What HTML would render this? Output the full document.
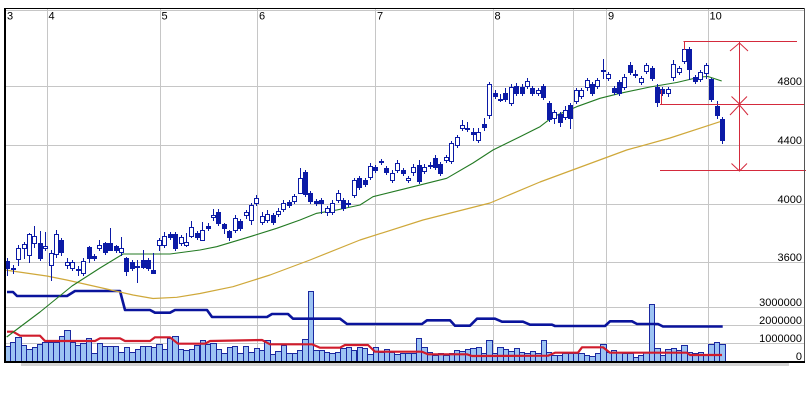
<!DOCTYPE html>
<html><head><meta charset="utf-8"><style>
html,body{margin:0;padding:0;background:#fff;width:810px;height:400px;overflow:hidden}
svg{display:block}
text{font-family:"Liberation Sans Narrow","Liberation Sans",sans-serif;font-size:11px;fill:#000}
</style></head><body>
<svg id="c" width="810" height="400" viewBox="0 0 810 400" xmlns="http://www.w3.org/2000/svg">
<rect x="0" y="0" width="810" height="400" fill="#fff"/>
<rect x="21" y="363" width="768" height="3" fill="#d4d4d4"/>
<g stroke="#c6c6c6" stroke-width="1">
<line x1="5" y1="10.5" x2="805" y2="10.5"/>
<line x1="5" y1="86.5" x2="805" y2="86.5"/>
<line x1="5" y1="145.5" x2="805" y2="145.5"/>
<line x1="5" y1="204.5" x2="805" y2="204.5"/>
<line x1="5" y1="262.5" x2="805" y2="262.5"/>
<line x1="5" y1="307.5" x2="805" y2="307.5"/>
<line x1="5" y1="325.5" x2="805" y2="325.5"/>
<line x1="5" y1="343.5" x2="805" y2="343.5"/>
<line x1="47.5" y1="9" x2="47.5" y2="361"/>
<line x1="160.5" y1="9" x2="160.5" y2="361"/>
<line x1="257.5" y1="9" x2="257.5" y2="361"/>
<line x1="375.5" y1="9" x2="375.5" y2="361"/>
<line x1="493.5" y1="9" x2="493.5" y2="361"/>
<line x1="573.5" y1="9" x2="573.5" y2="361"/>
<line x1="606.5" y1="9" x2="606.5" y2="361"/>
<line x1="708.5" y1="9" x2="708.5" y2="361"/>
</g>
<g id="dyn"></g>
<g stroke="#000" fill="none">
<line x1="4" y1="8.5" x2="805" y2="8.5" stroke-width="1"/>
<line x1="5" y1="8" x2="5" y2="363" stroke-width="2"/>
<line x1="804.5" y1="8" x2="804.5" y2="363" stroke="#555" stroke-width="1"/>
<line x1="4" y1="362" x2="805" y2="362" stroke-width="2"/>
</g>
<g>
<text x="7" y="19.5">3</text>
<text x="48.5" y="19.5">4</text>
<text x="161.5" y="19.5">5</text>
<text x="259" y="19.5">6</text>
<text x="377" y="19.5">7</text>
<text x="494.5" y="19.5">8</text>
<text x="608" y="19.5">9</text>
<text x="709.5" y="19.5">10</text>
</g>
<g text-anchor="end">
<text x="802" y="85">4800</text>
<text x="802" y="144">4400</text>
<text x="802" y="203">4000</text>
<text x="802" y="261">3600</text>
<text x="802" y="306">3000000</text>
<text x="802" y="324">2000000</text>
<text x="802" y="342">1000000</text>
<text x="802" y="360">0</text>
</g>
</svg>
<script>
(function(){
var C=[["F",261,268,258,275],["T",268,268,265,273],["H",248,259,245,265],["H",244,248,242,258],["H",234,255,233,262],["H",236,243,226,247],["F",243,258,231,260],["H",246,248,232,250],["H",253,265,250,280],["H",234,254,230,257],
["F",240,252,238,255],["H",262,265,258,268],["H",262,268,260,270],["T",269,269,266,275],["H",261,273,258,275],["F",247,258,246,262],["F",256,258,254,260],["H",245,248,240,250],["F",243,252,242,254],["F",243,250,228,250],
["F",246,250,245,252],["H",248,252,237,255],["F",258,271,257,275],["F",262,268,260,270],["T",266,266,260,282],["F",260,267,250,268],["F",260,268,258,270],["F",270,273,253,273],["H",240,245,238,250],["H",236,245,232,247],
["F",234,237,232,239],["F",234,248,232,250],["H",237,243,235,245],["H",242,245,233,246],["H",227,236,221,237],["F",233,237,231,239],["H",230,240,222,240],["F",226,228,223,230],["H",215,217,209,220],["F",212,223,209,225],
["F",224,228,223,233],["F",231,237,230,240],["H",218,230,215,232],["F",221,228,219,230],["H",212,215,210,218],["H",205,220,203,224],["H",198,203,195,205],["H",216,222,212,224],["H",214,220,210,222],["F",215,222,213,224],
["H",211,214,208,216],["H",203,209,200,211],["F",202,205,200,207],["H",196,201,194,203],["H",178,193,168,193],["F",172,194,170,196],["F",193,201,191,203],["F",201,203,199,205],["F",200,203,198,213],["H",208,212,206,215],
["H",203,212,200,214],["H",193,200,190,202],["F",200,208,198,210],["T",203,203,200,206],["H",180,195,178,197],["F",178,187,176,189],["F",180,184,178,186],["H",166,177,163,179],["F",167,170,165,172],["T",161,161,159,164],
["F",168,172,166,174],["H",173,180,170,182],["H",163,170,160,172],["F",170,173,168,175],["H",178,180,176,182],["H",167,172,164,175],["F",165,181,160,183],["H",167,171,164,173],["T",165,165,162,168],["F",158,167,155,169],
["F",164,173,162,175],["H",157,160,155,162],["H",143,161,141,163],["H",137,145,135,147],["H",125,128,120,130],["T",128,128,122,131],["F",132,134,128,140],["H",132,140,128,142],["F",124,127,118,130],["H",84,115,82,118],
["F",93,96,90,98],["T",99,99,94,101],["F",93,99,88,101],["H",87,103,84,105],["F",86,93,83,95],["F",87,93,84,95],["H",81,86,78,88],["F",88,93,86,95],["H",90,93,88,95],["F",86,97,84,99],
["F",103,119,101,121],["H",112,118,110,123],["F",114,122,112,126],["H",110,117,106,119],["F",105,118,103,128],["H",90,101,88,103],["H",90,96,88,98],["H",80,87,78,90],["F",84,93,82,95],["H",80,86,78,88],
["T",70,70,59,78],["H",74,78,72,80],["F",88,92,86,94],["F",82,93,80,95],["H",77,87,74,89],["F",65,72,62,74],["T",74,74,70,77],["H",78,82,76,84],["H",65,71,63,73],["F",68,78,66,80],
["F",87,102,84,106],["F",89,93,87,95],["H",89,93,87,96],["H",64,77,60,80],["H",68,72,66,74],["H",49,61,42,63],["F",49,69,47,79],["F",77,81,75,83],["H",72,79,70,81],["H",65,73,63,78],
["F",79,99,78,101],["F",106,115,101,118],["F",119,140,117,143]];
var V=[346,342.3,337.3,345,349,347,344.3,341.7,341.7,342,336,330,341.7,345,343.3,338.3,353.3,343.3,346,346,346,351.7,347,351.7,349,346,346,347,343.7,349,338.3,336,349,350.3,349,345,340.3,344.3,343.3,349,352.7,347,346,353.3,346,351.7,348.3,350.3,340,354.3,351,345,353.3,353.3,350,339,291,350,350,351.7,353.3,351.7,348.3,346.7,350,346.7,347.7,354.3,346.7,351.7,349,352.3,353.7,353.3,353.3,353.3,337.7,347,351.7,355,353.3,355,352.7,350,350.7,349,348.3,346.7,353.3,340,353.3,346.7,349,351,348.3,351.7,353.3,351,353.3,340,351.7,355,355,353.3,352.7,353.3,353.3,355,355.7,353.3,344.3,351.7,350,352.3,353.3,353.3,356.7,355,351.7,304.3,348.3,355,349,348.3,350,345,351.7,353.3,352.3,355,344.3,342.3,344.3];
var NV="#0b1aa6";
function px(i){return 7.3+i*5.414;}
var s='';
// volume bars
for(var i=0;i<V.length;i++){
 var l=Math.round(px(i)-2.7), r=Math.round(px(i)+2.7), t=Math.round(V[i]);
 s+='<rect x="'+(l+0.5)+'" y="'+(t+0.5)+'" width="'+(r-l)+'" height="'+(361-t)+'" fill="#9cc3f3" stroke="#1a28a0" stroke-width="1"/>';
}
function pl(pts,col,w){return '<polyline fill="none" stroke="'+col+'" stroke-width="'+w+'" stroke-linejoin="round" points="'+pts+'"/>';}
s+=pl("7,292 13,292 17,296 67,296 75,291 120,291 125,310 150,310 155,312.7 170,312.7 175,310 207,310 212,317 267,317 272,314 288,314 293,318.7 340,318.7 347,324 422,324 427,320.3 450,320.3 455,325.7 470,325.7 477,318.7 495,318.7 502,321.7 523,321.7 530,324.7 552,324.7 555,326 605,326 610,321.3 632,321.3 637,324 658,324 663,326.5 722.7,326.5","#0a149c",2.6);
s+=pl("7,331.7 13,331.7 20,335.7 40,335.7 45,341 95,341 100,338.3 120,338.3 125,341 150,341 155,337.3 170,337.3 178,343.7 205,343.7 210,341 262,340 270,344.3 312,344.3 320,347.7 340,347.7 345,345 368,345 375,351.7 422,351.7 428,354.3 467,354.3 472,356 548,355.7 555,352.7 578,352.7 582,347.3 603,347.3 610,352.7 687,352.7 690,355 722,355","#d01c2c",2.2);
s+=pl("5,270 46.7,276 66.7,280 100,287.5 133,295 153,298.5 176.7,297.3 200,293.5 233,286.7 270,275 310,260 360,240 423,220 490,203 540,182 626.7,150 670,138 720,121.7","#cfa83a",1.2);
s+=pl("6.7,337 40,312 72,286 100,268 123,254 170,254 200,250 216.7,246.7 250,236.7 276.7,228.3 300,220 316.7,213.3 336.7,210 360,205 373,196.7 406.7,188.3 446.7,178.3 473,163 493,150 520,136.7 540,126.7 553,116.7 576.7,106.7 600,98.3 620,93.3 650,87 676.7,82.5 700,77 708,76.5 721.7,81","#237a23",1.1);
// candles
for(var j=0;j<C.length;j++){
 var c=C[j], cx=Math.round(px(j)), bt=Math.round(c[1]), bb=Math.round(c[2]), wt=Math.round(c[3]), wb=Math.round(c[4]);
 s+='<line x1="'+(cx+0.5)+'" y1="'+wt+'" x2="'+(cx+0.5)+'" y2="'+(wb+1)+'" stroke="'+NV+'" stroke-width="1"/>';
 if(c[0]=="H"){
  s+='<rect x="'+(cx-1.5)+'" y="'+(bt+0.5)+'" width="4" height="'+Math.max(1,bb-bt)+'" fill="#fff" stroke="'+NV+'" stroke-width="1"/>';
 }else if(c[0]=="F"){
  s+='<rect x="'+(cx-2)+'" y="'+bt+'" width="5" height="'+Math.max(2,bb-bt+1)+'" fill="'+NV+'"/>';
 }else{
  s+='<rect x="'+(cx-2)+'" y="'+bt+'" width="5" height="2" fill="'+NV+'"/>';
 }
}
// annotations
var R="#d42a3c";
s+='<g stroke="'+R+'" stroke-width="1" fill="none">'+
'<line x1="683.5" y1="41.5" x2="797" y2="41.5"/>'+
'<line x1="684.5" y1="41" x2="684.5" y2="50"/>'+
'<line x1="660" y1="104.5" x2="805" y2="104.5"/>'+
'<line x1="661.5" y1="90" x2="661.5" y2="104"/>'+
'<line x1="660" y1="170.5" x2="806" y2="170.5"/>'+
'<line x1="739.5" y1="42" x2="739.5" y2="171"/>'+
'<polyline points="730,51 739.5,43 748,51"/>'+
'<polyline points="731.5,96.5 739.5,104 747,96.5"/>'+
'<polyline points="730,115 739.5,105 748,115"/>'+
'<polyline points="731.5,163.5 739.5,171 747,163.5"/>'+
'</g>';
document.getElementById("dyn").innerHTML=s;
})();
</script>
</body></html>
